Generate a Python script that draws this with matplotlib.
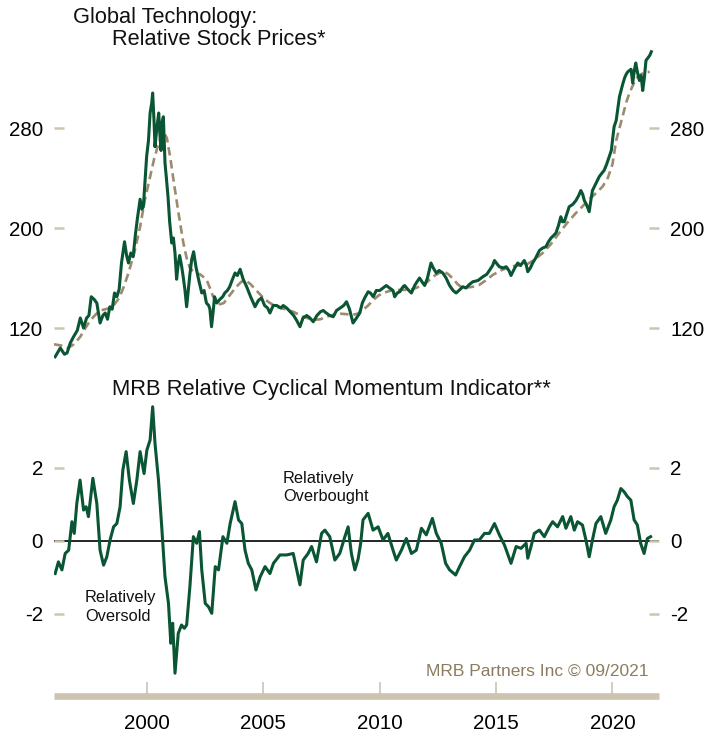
import numpy as np
import matplotlib
matplotlib.use("Agg")
import matplotlib.pyplot as plt

plt.rcParams['font.family'] = ['Liberation Sans', 'DejaVu Sans']

# relative stock price (weekly-ish readings)
price_years = [1996.05, 1996.27, 1996.45, 1996.56, 1996.7, 1996.84, 1997.0, 1997.13, 1997.27, 1997.4,
               1997.5, 1997.6, 1997.72, 1997.84, 1997.98, 1998.1, 1998.2, 1998.3, 1998.4, 1998.5,
               1998.6, 1998.7, 1998.8, 1998.9, 1999.03, 1999.12, 1999.2, 1999.3, 1999.4, 1999.5,
               1999.58, 1999.7, 1999.78, 1999.84, 1999.92, 1999.98, 2000.06, 2000.13, 2000.2, 2000.24,
               2000.3, 2000.34, 2000.42, 2000.5, 2000.55, 2000.6, 2000.65, 2000.7, 2000.77, 2000.83,
               2000.9, 2000.97, 2001.06, 2001.13, 2001.2, 2001.27, 2001.33, 2001.4, 2001.48, 2001.56,
               2001.63, 2001.7, 2001.77, 2001.84, 2001.92, 2002.0, 2002.1, 2002.2, 2002.35, 2002.45,
               2002.55, 2002.65, 2002.7, 2002.77, 2002.85, 2002.9, 2003.0, 2003.13, 2003.25, 2003.34,
               2003.45, 2003.55, 2003.65, 2003.78, 2003.88, 2004.0, 2004.13, 2004.28, 2004.45, 2004.64,
               2004.78, 2004.92, 2005.05, 2005.18, 2005.28, 2005.42, 2005.57, 2005.75, 2005.85, 2006.0,
               2006.15, 2006.3, 2006.43, 2006.57, 2006.7, 2006.86, 2007.0, 2007.14, 2007.3, 2007.45,
               2007.57, 2007.7, 2007.85, 2008.0, 2008.14, 2008.3, 2008.45, 2008.57, 2008.7, 2008.85,
               2009.0, 2009.14, 2009.25, 2009.35, 2009.5, 2009.6, 2009.72, 2009.85, 2010.0, 2010.14,
               2010.28, 2010.42, 2010.57, 2010.64, 2010.75, 2010.86, 2011.0, 2011.07, 2011.2, 2011.36,
               2011.5, 2011.6, 2011.71, 2011.85, 2011.93, 2012.05, 2012.2, 2012.3, 2012.43, 2012.55,
               2012.71, 2012.85, 2013.0, 2013.15, 2013.28, 2013.4, 2013.57, 2013.7, 2013.86, 2014.0,
               2014.22, 2014.43, 2014.6, 2014.71, 2014.85, 2014.93, 2015.05, 2015.14, 2015.3, 2015.43,
               2015.55, 2015.64, 2015.8, 2015.93, 2016.05, 2016.21, 2016.3, 2016.36, 2016.47, 2016.57,
               2016.7, 2016.86, 2017.0, 2017.14, 2017.25, 2017.36, 2017.47, 2017.57, 2017.68, 2017.78,
               2017.85, 2017.93, 2018.05, 2018.14, 2018.3, 2018.43, 2018.55, 2018.64, 2018.72, 2018.79,
               2018.9, 2019.0, 2019.07, 2019.14, 2019.3, 2019.43, 2019.55, 2019.64, 2019.75, 2019.86,
               2019.95, 2020.07, 2020.16, 2020.3, 2020.44, 2020.52, 2020.59, 2020.66, 2020.73, 2020.8,
               2020.87, 2020.94, 2021.0, 2021.08, 2021.16, 2021.23, 2021.3, 2021.37, 2021.44, 2021.52,
               2021.6, 2021.67]
price_vals = [97, 104, 99, 100, 108, 113, 118, 128, 120, 128,
              130, 145, 143, 140, 124, 130, 132, 127, 137, 135,
              148, 145, 151, 172, 189, 178, 172, 180, 177, 195,
              207, 223, 215, 217, 240, 257, 270, 292, 300, 308,
              285, 265, 280, 292, 275, 262, 285, 289, 252, 240,
              225, 205, 188, 192, 180, 159, 170, 178, 170, 160,
              150, 137, 150, 163, 175, 181, 169, 160, 148, 150,
              140, 138, 135, 121, 135, 145, 140, 143, 145, 148,
              150, 153, 158, 164, 162, 167, 159, 153, 145, 137,
              142, 144, 138, 136, 132, 138, 138, 136, 138, 136,
              133, 130, 126, 121, 128, 130, 128, 125, 130, 133,
              134, 132, 130, 129, 134, 136, 138, 141, 135, 124,
              128, 132, 140, 144, 149, 148, 145, 150, 150, 152,
              154, 152, 150, 145, 148, 149, 153, 154, 151, 148,
              154, 157, 160, 156, 154, 160, 172, 168, 164, 166,
              164, 160, 154, 150, 148, 150, 153, 152, 155, 157,
              158, 161, 163, 166, 170, 174, 171, 169, 168, 169,
              166, 162, 168, 172, 170, 174, 170, 165, 168, 172,
              176, 182, 184, 185, 189, 192, 194, 196, 202, 209,
              205, 205, 212, 217, 219, 222, 226, 230, 227, 222,
              218, 213, 222, 230, 236, 241, 244, 246, 251, 257,
              262, 281, 286, 305, 315, 320, 323, 325, 326, 327,
              316, 326, 332, 324, 318, 322, 310, 320, 334, 336,
              338, 341]

# moving average (dashed)
ma_years = [1996.0, 1996.3, 1996.6, 1996.85, 1997.13, 1997.35, 1997.56, 1997.8, 1998.0, 1998.2,
            1998.4, 1998.6, 1998.8, 1999.0, 1999.2, 1999.45, 1999.7, 1999.9, 2000.13, 2000.3,
            2000.5, 2000.7, 2000.85, 2001.0, 2001.13, 2001.35, 2001.56, 2001.7, 2001.84, 2002.05,
            2002.27, 2002.55, 2002.7, 2002.84, 2003.0, 2003.13, 2003.3, 2003.5, 2003.84, 2004.05,
            2004.25, 2004.45, 2004.65, 2004.85, 2005.05, 2005.28, 2005.55, 2005.85, 2006.28, 2006.71,
            2007.14, 2007.45, 2007.71, 2008.0, 2008.28, 2008.6, 2008.85, 2009.05, 2009.28, 2009.5,
            2009.72, 2009.95, 2010.14, 2010.4, 2010.71, 2011.0, 2011.28, 2011.55, 2011.86, 2012.05,
            2012.28, 2012.55, 2012.78, 2012.95, 2013.14, 2013.35, 2013.57, 2013.8, 2014.0, 2014.28,
            2014.55, 2014.86, 2015.2, 2015.57, 2015.9, 2016.28, 2016.6, 2017.0, 2017.35, 2017.71,
            2018.05, 2018.43, 2018.75, 2019.0, 2019.3, 2019.57, 2019.8, 2020.0, 2020.16, 2020.43,
            2020.6, 2020.73, 2020.85, 2021.0, 2021.14, 2021.28, 2021.45, 2021.6]
ma_vals = [107, 106, 104, 107, 113, 120, 126, 131, 134, 135,
           136, 139, 144, 153, 164, 180, 201, 222, 241, 255,
           268, 277, 272, 256, 239, 212, 188, 176, 168, 164,
           163, 159, 152, 145, 140, 139, 140, 145, 153, 157,
           158, 155, 151, 147, 143, 140, 137, 135.5, 133, 129,
           126.5, 127, 129, 130.5, 131.5, 131, 130.5, 131.5, 134.5, 138,
           142.5, 146, 148, 149.5, 150.5, 150.5, 150.5, 152, 154.5, 157,
           161, 164, 165, 163, 159.5, 155, 152, 152.5, 153, 154.5,
           158, 162.5, 166, 169, 170, 170.5, 174, 180, 187, 196,
           204, 212, 218, 223, 228, 233, 240, 251, 270, 289,
           301, 308, 313, 319, 322, 323.5, 324.5, 325]

# momentum indicator
mom_years = [1996.05, 1996.19, 1996.34, 1996.48, 1996.63, 1996.77, 1996.87, 1996.98, 1997.12, 1997.27,
             1997.38, 1997.48, 1997.67, 1997.84, 1997.98, 1998.13, 1998.27, 1998.41, 1998.56, 1998.7,
             1998.84, 1998.96, 1999.1, 1999.24, 1999.41, 1999.56, 1999.7, 1999.87, 1999.99, 2000.13,
             2000.24, 2000.34, 2000.49, 2000.63, 2000.77, 2000.92, 2001.02, 2001.1, 2001.2, 2001.34,
             2001.48, 2001.6, 2001.7, 2001.84, 2001.99, 2002.13, 2002.25, 2002.35, 2002.5, 2002.64,
             2002.78, 2002.93, 2003.07, 2003.26, 2003.43, 2003.57, 2003.78, 2003.93, 2004.07, 2004.21,
             2004.35, 2004.5, 2004.68, 2004.86, 2005.07, 2005.28, 2005.43, 2005.71, 2006.0, 2006.28,
             2006.43, 2006.57, 2006.71, 2006.92, 2007.07, 2007.28, 2007.5, 2007.64, 2007.85, 2008.07,
             2008.28, 2008.5, 2008.64, 2008.78, 2008.93, 2009.07, 2009.18, 2009.28, 2009.5, 2009.71,
             2009.93, 2010.14, 2010.35, 2010.57, 2010.71, 2010.93, 2011.14, 2011.36, 2011.57, 2011.79,
             2012.0, 2012.26, 2012.43, 2012.64, 2012.83, 2013.0, 2013.26, 2013.43, 2013.64, 2013.86,
             2014.07, 2014.28, 2014.5, 2014.71, 2014.93, 2015.14, 2015.36, 2015.64, 2015.86, 2016.07,
             2016.29, 2016.36, 2016.5, 2016.64, 2016.86, 2017.07, 2017.29, 2017.43, 2017.64, 2017.86,
             2018.0, 2018.21, 2018.36, 2018.5, 2018.71, 2018.86, 2019.0, 2019.14, 2019.29, 2019.5,
             2019.71, 2019.93, 2020.07, 2020.21, 2020.36, 2020.5, 2020.64, 2020.79, 2020.93, 2021.07,
             2021.21, 2021.36, 2021.5, 2021.64]
mom_vals = [-0.9, -0.58, -0.8, -0.35, -0.26, 0.52, 0.2, 1.02, 1.66, 0.84,
            0.93, 0.66, 1.71, 1.02, -0.26, -0.67, -0.44, 0.02, 0.38, 0.47,
            0.93, 1.94, 2.44, 1.66, 1.02, 1.66, 2.44, 1.84, 2.48, 2.76,
            3.67, 2.67, 1.66, 0.38, -0.99, -1.72, -2.81, -2.26, -3.63, -2.54,
            -2.31, -2.4, -2.31, -1.26, 0.11, -0.07, 0.25, -0.8, -1.72, -1.81,
            -1.99, -0.71, -0.8, 0.11, -0.07, 0.47, 1.07, 0.57, 0.47, -0.26,
            -0.62, -0.8, -1.35, -0.99, -0.71, -0.9, -0.62, -0.39, -0.39, -0.35,
            -0.8, -1.21, -0.53, -0.35, -0.16, -0.58, 0.2, 0.29, 0.11, -0.53,
            -0.35, 0.11, 0.38, -0.35, -0.8, -0.5, -0.07, 0.57, 0.75, 0.29,
            0.38, 0.02, 0.2, -0.26, -0.53, -0.26, 0.06, -0.35, -0.26, 0.34,
            0.16, 0.61, 0.2, -0.07, -0.62, -0.8, -0.94, -0.71, -0.44, -0.26,
            0.02, 0.02, 0.2, 0.2, 0.47, 0.16, -0.12, -0.62, -0.16, -0.21,
            -0.07, -0.48, -0.16, 0.2, 0.29, 0.11, 0.38, 0.52, 0.38, 0.66,
            0.34, 0.66, 0.29, 0.52, 0.43, 0.02, -0.44, 0.02, 0.47, 0.66,
            0.2, 0.57, 0.93, 1.11, 1.43, 1.34, 1.21, 1.11, 0.57, 0.43,
            -0.07, -0.35, 0.06, 0.11]

top_ticks = [120, 200, 280]
bot_ticks = [-2, 0, 2]
year_ticks = [2000, 2005, 2010, 2015, 2020]

green = '#0a5533'
tan = '#9c8b6d'
tick_tan = '#cdc5b2'

W, H = 709, 736
fig = plt.figure(figsize=(W / 100, H / 100), dpi=100)


def box(left, top, right, bottom):
    return [left / W, 1 - bottom / H, (right - left) / W, (bottom - top) / H]


ax1 = fig.add_axes(box(54, 40, 659, 365))
ax2 = fig.add_axes(box(54, 400, 659, 696))

for ax in (ax1, ax2):
    for s in ax.spines.values():
        s.set_visible(False)
    ax.set_xlim(1996.0, 2022.0)
    ax.tick_params(axis='y', which='both', direction='in', length=7.5, width=1.8,
                   color=tick_tan, labelsize=14.8, pad=8, left=True, right=True,
                   labelleft=True, labelright=True)

ax1.plot(ma_years, ma_vals, color=tan, lw=1.9, dashes=(3.2, 1.8), zorder=2)
ax1.plot(price_years, price_vals, color=green, lw=2.2, zorder=3)
ax1.set_ylim(90.4, 350.4)
ax1.set_yticks(top_ticks)
ax1.set_xticks([])

ax2.axhline(0, color='black', lw=1.2, zorder=1)
ax2.plot(mom_years, mom_vals, color=green, lw=2.2, zorder=3)
ax2.set_ylim(-4.255, 3.855)
ax2.set_yticks(bot_ticks)
ax2.set_yticklabels(['-2', '0', '2'])
bsp = ax2.spines['bottom']
bsp.set_visible(True)
bsp.set_color(tick_tan)
bsp.set_linewidth(4.8)
bsp.set_capstyle('butt')
ax2.set_xticks(year_ticks)
ax2.tick_params(axis='x', direction='in', length=10, width=1.2, color=tick_tan,
                labelsize=14.8, pad=13)

# titles and notes
fig.text(73 / W, 1 - 23.5 / H, 'Global Technology:', fontsize=15.7, va='baseline', color='#111111')
fig.text(112 / W, 1 - 45 / H, 'Relative Stock Prices*', fontsize=15.7, va='baseline', color='#111111')
fig.text(112 / W, 1 - 395.5 / H, 'MRB Relative Cyclical Momentum Indicator**', fontsize=15.8,
         va='baseline', color='#111111')
fig.text(283 / W, 1 - 482.5 / H, 'Relatively', fontsize=11.8, va='baseline', color='#111111')
fig.text(283 / W, 1 - 501.5 / H, 'Overbought', fontsize=11.8, va='baseline', color='#111111')
fig.text(85 / W, 1 - 602 / H, 'Relatively', fontsize=11.8, va='baseline', color='#111111')
fig.text(85 / W, 1 - 621 / H, 'Oversold', fontsize=11.8, va='baseline', color='#111111')
fig.text(649 / W, 1 - 676 / H, 'MRB Partners Inc \u00a9 09/2021', fontsize=12.5, ha='right',
         va='baseline', color='#8b7d5e')

fig.savefig('out.png', dpi=100)
